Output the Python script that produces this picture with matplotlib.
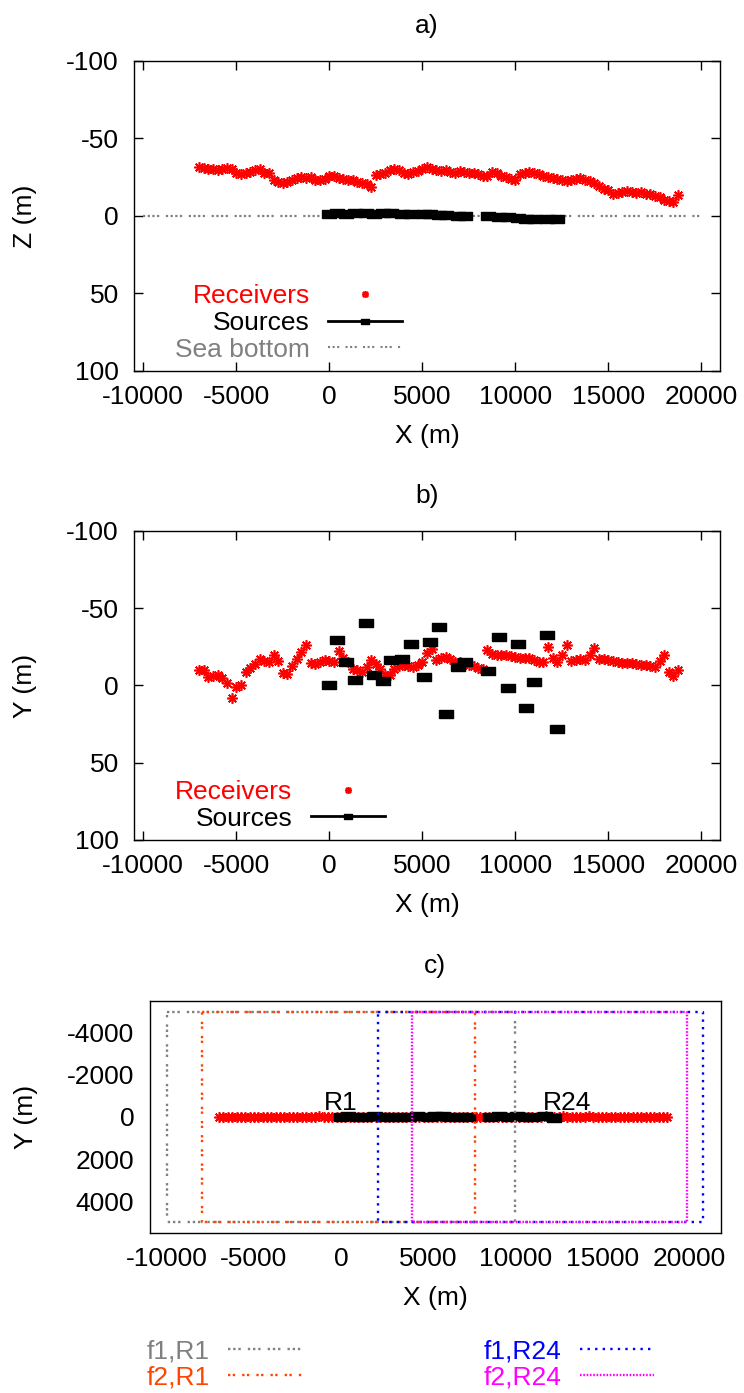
import matplotlib
matplotlib.use("Agg")
import matplotlib.pyplot as plt
from matplotlib.lines import Line2D

plt.rcParams['font.family'] = ['Liberation Sans', 'DejaVu Sans']
plt.rcParams['axes.unicode_minus'] = False
FS = 19

# receivers (m)
rec_x = [-7000, -6750, -6500, -6250, -6000, -5750, -5500, -5250, -5000, -4750,
         -4500, -4250, -4000, -3750, -3500, -3250, -3000, -2750, -2500, -2250,
         -2000, -1750, -1500, -1250, -1000, -750, -500, -250, 0, 250,
         500, 750, 1000, 1250, 1500, 1750, 2000, 2250, 2500, 2750,
         3000, 3250, 3500, 3750, 4000, 4250, 4500, 4750, 5000, 5250,
         5500, 5750, 6000, 6250, 6500, 6750, 7000, 7250, 7500, 7750,
         8000, 8250, 8500, 8750, 9000, 9250, 9500, 9750, 10000, 10250,
         10500, 10750, 11000, 11250, 11500, 11750, 12000, 12250, 12500, 12750,
         13000, 13250, 13500, 13750, 14000, 14250, 14500, 14750, 15000, 15250,
         15500, 15750, 16000, 16250, 16500, 16750, 17000, 17250, 17500, 17750,
         18000, 18250, 18500, 18750]
rec_z = [-31.5, -31, -30.5, -30.5, -29.5, -30.5, -31, -30, -27.5, -27,
         -28, -28.5, -29.5, -30, -28, -27.5, -23.5, -22, -21.5, -22,
         -23.5, -24.5, -25, -24.5, -25, -23.5, -23, -24, -25.5, -26,
         -24.5, -24, -23.5, -23, -22, -21.5, -20.5, -19, -26.5, -27,
         -27.5, -29.5, -30.5, -29.5, -27.5, -27, -28.5, -29, -30, -31.5,
         -30.5, -29.5, -29, -29.5, -28.5, -28, -29, -28.5, -28, -27.5,
         -27, -25.5, -26, -28.5, -28, -26, -25, -24, -23.5, -27,
         -28, -28.5, -28, -27, -25.5, -25, -24.5, -24, -23, -22.5,
         -23.5, -24, -24.5, -23, -22.5, -21.5, -19.5, -17.5, -16.5, -14.5,
         -15, -15.5, -16, -15.5, -15, -15.5, -14.5, -14, -13, -12,
         -10.5, -9.5, -9, -13.5]
rec_y = [-10, -10, -5.5, -6, -6.5, -5, -1.5, 8, 1, 0,
         -9, -11.5, -14, -17, -16, -15.5, -19.5, -16, -8, -7.5,
         -12.5, -17, -22, -26, -14.5, -14, -15, -16.5, -16, -15.5,
         -22.5, -18, -15, -11, -10, -9, -12, -16.5, -14, -11,
         -6.5, -7, -11, -12.5, -13, -12.5, -12, -13.5, -15, -21,
         -23.5, -16.5, -17.5, -18.5, -17, -15.5, -15, -14.5, -13.5, -12.5,
         -11.5, -11, -23, -20.5, -19.5, -19.5, -20, -19, -18.5, -18,
         -18, -17.5, -16.5, -15.5, -15.5, -25, -18, -15.5, -20, -26,
         -16, -16.5, -17, -16.5, -20, -24, -17, -17, -16.5, -16,
         -15, -14.5, -14.5, -14.5, -14, -13.5, -13.5, -12.5, -12, -16,
         -19.5, -9, -6, -10]

# sources (m)
src_x = [0, 397, 894, 1390, 1946, 2423, 2880, 3336, 3932, 4389, 5064, 5421,
         5878, 6255, 6910, 7267, 8538, 9094, 9630, 10127, 10564, 11000, 11715, 12232]
src_y = [0, -29.5, -15.3, -3.7, -40.3, -6.5, -3.2, -16.6, -17, -26.7, -5.8, -28.4,
         -37.7, 18.3, -11.9, -15.5, -9.5, -31.2, 1.3, -26.7, 14.7, -2.2, -32.8, 28]
src_z = [-1.5, -1.8, -1.6, -1.8, -1.7, -1.6, -1.7, -1.8, -1.6, -1.2, -1.6, -1.0,
         -0.5, -0.4, -0.3, -0.2, 0.2, 0.6, 0.8, 1.3, 1.8, 1.8, 2.2, 2.0]

sea_x = [-10000, 20000]
sea_z = [0, 0]

# Fresnel zone boxes (x range, y range)
box_labels = ['f1,R1', 'f2,R1', 'f1,R24', 'f2,R24']
box_xmin = [-10000, -8000, 2100, 4100]
box_xmax = [10000, 7700, 20800, 19900]
box_ymin = [-5000, -5000, -5000, -5000]
box_ymax = [5000, 5000, 5000, 5000]
box_colors = ['#808080', '#ff4500', '#0000ff', '#ff00ff']
box_styles = [(0, (1, 1.2, 1, 1.2, 1, 3)), (0, (1, 1, 1, 3)), (0, (1, 2.2)), (0, (0.7, 0.7))]

x_ticks = [-10000, -5000, 0, 5000, 10000, 15000, 20000]
yz_ticks = [-100, -50, 0, 50, 100]
c_yticks = [-4000, -2000, 0, 2000, 4000]

rect = [(-1, -0.6), (1, -0.6), (1, 0.6), (-1, 0.6), (-1, -0.6)]
star = (8, 2, 0)
REC_MS, REC_MEW = 7.5, 1.2

fig = plt.figure(figsize=(7.44, 13.93), dpi=100)
W, H = 744.0, 1393.0


def add_ax(l, t, r, b):
    return fig.add_axes([l / W, 1 - b / H, (r - l) / W, (b - t) / H])


def style(ax, ticks_len=6.5):
    ax.tick_params(direction='in', length=ticks_len, width=1, top=True, right=True,
                   labelsize=FS)
    ax.tick_params(axis='y', pad=11)
    ax.tick_params(axis='x', pad=10)
    for s in ax.spines.values():
        s.set_linewidth(1.0)


def top_panel(ax, vals, ylabel, title, with_sea):
    if with_sea:
        ax.plot(sea_x, sea_z, color='#808080', lw=1.6, ls=(0, (1, 1.1, 1, 1.1, 1, 1.1, 1, 3)))
    ax.plot(rec_x, vals[0], ls='none', marker=star, ms=REC_MS, mew=REC_MEW, color='red')
    ax.plot(src_x, vals[1], ls='none', marker=rect, ms=9.5, color='black')
    ax.set_xlim(-10500, 21000)
    ax.set_ylim(100, -100)
    ax.set_xticks(x_ticks)
    ax.set_yticks(yz_ticks)
    style(ax)
    ax.set_xlabel('X (m)', fontsize=FS)
    ax.set_ylabel(ylabel, fontsize=FS)
    ax.xaxis.set_label_coords(0.5, -0.171)
    ax.yaxis.set_label_coords(-0.166, 0.5)
    ax.set_title(title, fontsize=FS, pad=20)
    handles = [Line2D([], [], ls='none', marker=star, ms=5, mew=1.2, color='red'),
               Line2D([], [], color='black', lw=2, marker=rect, ms=6)]
    labels = ['Receivers', 'Sources']
    if with_sea:
        handles.append(Line2D([], [], color='#808080', lw=1.5, ls=(0, (1, 1.2, 1, 1.2, 1, 3))))
        labels.append('Sea bottom')
    ax.legend(handles, labels, loc='lower left', bbox_to_anchor=(0.07, 0.03),
              frameon=False, markerfirst=False, fontsize=FS, labelcolor='linecolor',
              handlelength=2.8, handletextpad=0.7, labelspacing=0.1,
              borderpad=0, borderaxespad=0)


ax_a = add_ax(134, 61, 720, 371)
top_panel(ax_a, (rec_z, src_z), 'Z (m)', 'a)', True)

ax_b = add_ax(134, 531, 720, 840)
top_panel(ax_b, (rec_y, src_y), 'Y (m)', 'b)', False)

# panel c
ax_c = add_ax(149.5, 1001, 720.5, 1233)
ax_c.plot(rec_x, rec_y, ls='none', marker=star, ms=REC_MS, mew=REC_MEW, color='red')
ax_c.plot(src_x, src_y, ls='none', marker=rect, ms=9.5, color='black')
box_lines = []
for i in range(len(box_labels)):
    bx = [box_xmin[i], box_xmax[i], box_xmax[i], box_xmin[i], box_xmin[i]]
    by = [box_ymin[i], box_ymin[i], box_ymax[i], box_ymax[i], box_ymin[i]]
    ln, = ax_c.plot(bx, by, color=box_colors[i], lw=1.7, ls=box_styles[i])
    box_lines.append(ln)
ax_c.text(src_x[0], -350, 'R1', fontsize=FS, ha='center', va='baseline')
ax_c.text(13000, -350, 'R24', fontsize=FS, ha='center', va='baseline')
ax_c.set_xlim(-11000, 21800)
ax_c.set_ylim(5500, -5500)
ax_c.set_xticks(x_ticks)
ax_c.set_yticks(c_yticks)
style(ax_c, ticks_len=0)
ax_c.set_xlabel('X (m)', fontsize=FS)
ax_c.set_ylabel('Y (m)', fontsize=FS)
ax_c.xaxis.set_label_coords(0.5, -0.228)
ax_c.yaxis.set_label_coords(-0.195, 0.5)
ax_c.set_title('c)', fontsize=FS, pad=20)

leg_kw = dict(loc='upper left', frameon=False, markerfirst=False, fontsize=FS,
              labelcolor='linecolor', handlelength=2.8, handletextpad=0.7,
              labelspacing=0.1, borderpad=0, borderaxespad=0)
fig.legend(box_lines[:2], box_labels[:2], bbox_to_anchor=(146.7 / W, 1 - 1339 / H), **leg_kw)
fig.legend(box_lines[2:], box_labels[2:], bbox_to_anchor=(484 / W, 1 - 1339 / H), **leg_kw)

fig.savefig('out.png', dpi=100)
